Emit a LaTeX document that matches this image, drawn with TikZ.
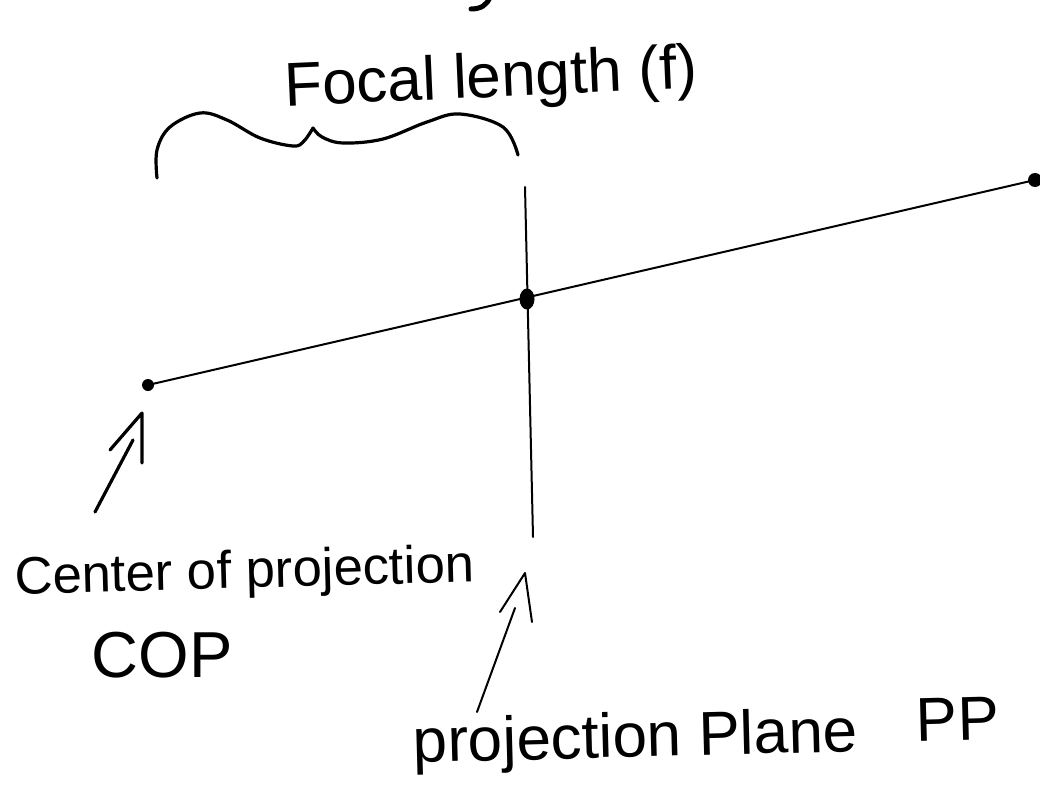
\documentclass[tikz,border=0pt]{standalone}
\usepackage{fontspec}
\setmainfont{Liberation Sans}
\usetikzlibrary{shapes.geometric}
\begin{document}
\begin{tikzpicture}[x=1pt,y=-1pt,
  ink/.style={line width=2pt, line cap=round, line join=round},
  heavyink/.style={line width=3.2pt, line cap=round, line join=round},
  dot/.style={circle, fill=black, draw=none, inner sep=0pt, minimum size=12pt},
  lbl/.style={inner sep=0pt, anchor=base, text=black}]
\useasboundingbox (0,0) rectangle (1040,805);
% cut-off glyph at the top edge
\draw[line width=5pt, line cap=round] (471,9) .. controls (481,9) and (487,5) .. (490,-3);
% labels
\node[lbl, font=\fontsize{62}{70}\selectfont, rotate=2.5] (focal) at (492,97) {Focal length (f)};
\node[lbl, font=\fontsize{52.7}{60}\selectfont, rotate=1.5] (coplabel) at (245,588) {Center of projection};
\node[lbl, font=\fontsize{65}{72}\selectfont] (copabbr) at (162,677) {COP};
\node[lbl, font=\fontsize{62}{70}\selectfont, rotate=1.5] (pplabel) at (636,757) {projection Plane};
\node[lbl, font=\fontsize{62}{70}\selectfont, rotate=1.5] (ppabbr) at (958,740) {PP};
% points
\node[dot] (cop) at (148,385) {};
\node[ellipse, fill=black, inner sep=0pt, minimum width=15pt, minimum height=21pt] (mid) at (527,299) {};
\node[dot, minimum size=14pt] (far) at (1035,180) {};
% projection plane
\coordinate (pptop) at (525,187);
\coordinate (ppbot) at (533,537);
\draw[ink] (pptop) -- (ppbot);
% ray
\draw[ink] (cop.center) -- (far.center);
% brace
\draw[heavyink] plot[smooth, tension=0.6] coordinates {(157,178) (157,150) (170,127) (200,113) (227,120) (260,138) (293,146) (304,141) (313,128)};
\draw[heavyink] plot[smooth, tension=0.6] coordinates {(313,128) (322,137) (343,143) (383,139) (427,122) (460,114) (503,127) (518,155)};
% arrow to COP
\coordinate (a1s) at (95,512);
\coordinate (a1e) at (133,440);
\coordinate (a1l) at (110,450);
\coordinate (a1t) at (142,413);
\coordinate (a1r) at (142,463);
\draw[heavyink] (a1s) -- (a1e);
\draw[heavyink] (a1l) -- (a1t) -- (a1r);
% arrow to projection plane
\coordinate (a2s) at (477,712);
\coordinate (a2e) at (515,608);
\coordinate (a2l) at (500,612);
\coordinate (a2t) at (525,573);
\coordinate (a2r) at (532,622);
\draw[ink] (a2s) -- (a2e);
\draw[ink] (a2l) -- (a2t) -- (a2r);
\end{tikzpicture}
\end{document}
